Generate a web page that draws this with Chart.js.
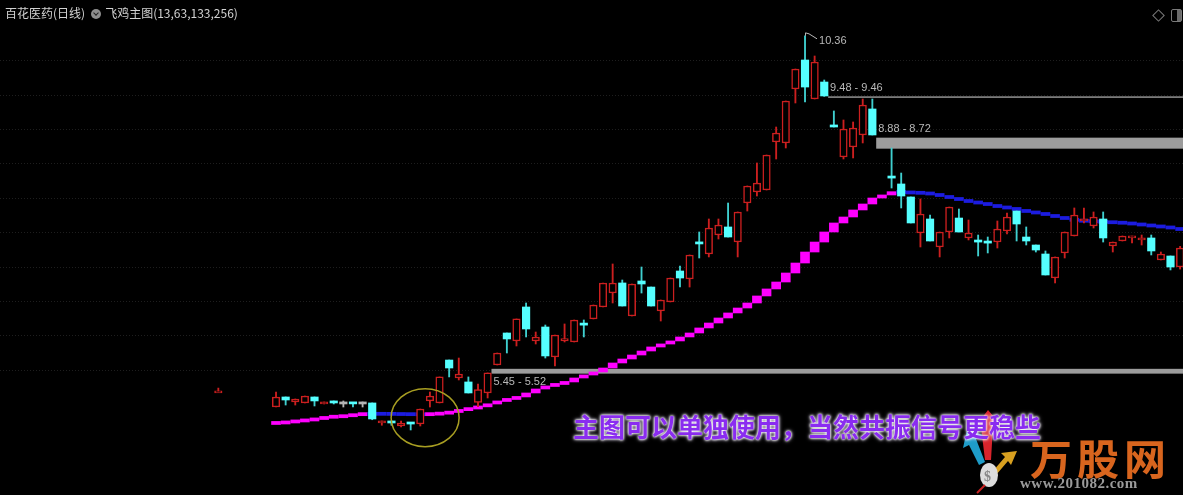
<!DOCTYPE html>
<html>
<head>
<meta charset="utf-8">
<script src="https://cdn.jsdelivr.net/npm/chart.js@4.4.1/dist/chart.umd.min.js"></script>
<style>
  body { margin: 0; background: #000; }
  #wrap { position: relative; width: 1183px; height: 495px; overflow: hidden; background: #000; }
  #c { position: absolute; left: 0; top: 0; }
  .title { position: absolute; left: 5px; top: 5px; font: 12px "Noto Sans CJK SC", sans-serif; color: #d2d2d2; line-height: 16px; white-space: nowrap; }
  .title .ic { display: inline-block; width: 10px; height: 10px; border-radius: 50%; background: #8e8e8e; margin: 0 4px 0 6px; vertical-align: -1px; position: relative; }
  .title .ic::after { content: ''; position: absolute; left: 3px; top: 2px; width: 3px; height: 3px; border-right: 1px solid #222; border-bottom: 1px solid #222; transform: rotate(45deg); }
  .diamond { position: absolute; left: 1154px; top: 11px; width: 7px; height: 7px; border: 1px solid #7a7a7a; transform: rotate(45deg); }
  .winbtn { position: absolute; left: 1171px; top: 9px; width: 9px; height: 11px; border: 1px solid #7a7a7a; border-radius: 2px; background: linear-gradient(90deg, transparent 50%, #6a6a6a 50%); }
  .slogan { position: absolute; left: 573px; top: 407px; font: bold 26px "Noto Sans CJK SC", sans-serif; color: #8a2cf0; white-space: nowrap;
            text-shadow: 0 0 2px #fff, 0 0 3px #fff, 0 0 4px #e8dcff; }
  .logo { position: absolute; left: 1030px; top: 434px; font: bold 42px "Noto Sans CJK SC", sans-serif; color: #d8651e; letter-spacing: 5px; line-height: 46px; }
  .url { position: absolute; left: 1020px; top: 475px; font: bold 15px "Liberation Serif", serif; color: #9a9a9a; letter-spacing: 0.5px; }
  .arrows { position: absolute; left: 955px; top: 405px; }
</style>
</head>
<body>
<div id="wrap">
  <canvas id="c" width="1183" height="495"></canvas>
  <div class="title">百花医药(日线)<span class="ic"></span>飞鸡主图(13,63,133,256)</div>
  <div class="diamond"></div>
  <div class="winbtn"></div>
  <svg class="arrows" width="70" height="90" viewBox="0 0 70 90">
    <polygon points="30,55 26,22 20,22 33,5 46,20 38,21 36,55" fill="#d8242c"/>
    <polygon points="24,60 14,40 8,43 12,25 28,30 21,34 30,57" fill="#1e9cc8"/>
    <polygon points="38,66 50,52 46,48 62,46 56,60 53,56 41,70" fill="#d8a020"/>
    <ellipse cx="34" cy="70" rx="9" ry="12" fill="#dcdcdc"/>
    <text x="29" y="76" font-size="14" font-weight="bold" fill="#888">$</text>
    <polyline points="30,80 22,88" stroke="#c82020" stroke-width="2"/>
  </svg>
  <div class="slogan">主图可以单独使用，当然共振信号更稳些</div>
  <div class="logo">万股网</div>
  <div class="url">www.201082.com</div>
</div>
<script>
// ── daily candles (x = bar slot, slot 63 has no bar) ──
const candleIdx = [-6,
  0, 1, 2, 3, 4, 5, 6, 7, 8, 9, 10, 11, 12, 13, 14, 15, 16, 17, 18, 19,
  20, 21, 22, 23, 24, 25, 26, 27, 28, 29, 30, 31, 32, 33, 34, 35, 36, 37, 38, 39,
  40, 41, 42, 43, 44, 45, 46, 47, 48, 49, 50, 51, 52, 53, 54, 55, 56, 57, 58, 59,
  60, 61, 62, 64, 65, 66, 67, 68, 69, 70, 71, 72, 73, 74, 75, 76, 77, 78, 79,
  80, 81, 82, 83, 84, 85, 86, 87, 88, 89, 90, 91, 92, 93, 94];

const openP = [5.18,
  4.965, 5.111, 5.038, 5.024, 5.111, 5.009, 5.053, 5.024, 5.03, 5.024, 5.024, 4.733, 4.762, 4.689, 4.74, 4.718, 5.053, 5.024, 5.648, 5.387,
  5.329, 5.03, 5.169, 5.576, 6.041, 5.925, 6.419, 5.925, 6.128, 5.692, 5.925, 5.91, 6.18, 6.245, 6.419, 6.622, 6.768, 6.288, 6.797, 6.709,
  6.361, 6.492, 6.942, 6.826, 7.36, 7.189, 7.465, 7.582, 7.363, 7.93, 8.09, 8.119, 8.817, 8.803, 9.587, 10.009, 9.442, 9.689, 9.055, 8.599,
  8.744, 8.919, 9.297, 8.315, 8.207, 8.018, 7.494, 7.698, 7.291, 7.509, 7.712, 7.422, 7.385, 7.37, 7.363, 7.523, 7.814, 7.436, 7.32,
  7.189, 6.84, 7.204, 7.451, 7.669, 7.596, 7.698, 7.305, 7.378, 7.43, 7.40, 7.422, 7.102, 7.16, 7.0];

const closeP = [5.19,
  5.111, 5.067, 5.082, 5.125, 5.053, 5.038, 5.024, 5.024, 5.02, 5.024, 4.791, 4.762, 4.733, 4.733, 4.725, 4.936, 5.125, 5.402, 5.532, 5.445,
  5.169, 5.22, 5.46, 5.75, 5.954, 6.245, 6.099, 5.983, 5.707, 6.012, 5.96, 6.23, 6.16, 6.448, 6.768, 6.768, 6.433, 6.753, 6.753, 6.433,
  6.521, 6.84, 6.84, 7.175, 7.34, 7.567, 7.611, 7.436, 7.80, 8.178, 8.22, 8.628, 8.948, 9.413, 9.878, 9.616, 9.98, 9.486, 9.045, 9.006,
  9.021, 9.355, 8.919, 8.30, 8.032, 7.64, 7.771, 7.378, 7.509, 7.872, 7.509, 7.494, 7.37, 7.355, 7.553, 7.727, 7.625, 7.378, 7.247,
  6.884, 7.146, 7.509, 7.756, 7.698, 7.727, 7.422, 7.363, 7.451, 7.445, 7.415, 7.233, 7.189, 7.0, 7.276];

const highP = [5.24,
  5.183, 5.111, 5.082, 5.125, 5.111, 5.038, 5.053, 5.053, 5.03, 5.038, 5.024, 4.762, 4.762, 4.762, 4.74, 4.936, 5.183, 5.402, 5.648, 5.677,
  5.402, 5.30, 5.46, 5.75, 6.041, 6.245, 6.477, 6.055, 6.157, 6.012, 6.172, 6.23, 6.23, 6.448, 6.768, 7.044, 6.811, 6.753, 7.0, 6.709,
  6.521, 6.84, 7.015, 7.175, 7.509, 7.698, 7.698, 7.93, 7.80, 8.178, 8.512, 8.628, 9.035, 9.413, 9.878, 10.36, 10.067, 9.718, 9.268, 9.137,
  9.108, 9.442, 9.442, 8.73, 8.366, 8.018, 7.989, 7.756, 7.509, 7.872, 7.843, 7.683, 7.465, 7.436, 7.669, 7.785, 7.814, 7.582, 7.32,
  7.233, 7.146, 7.509, 7.858, 7.858, 7.80, 7.80, 7.363, 7.451, 7.45, 7.465, 7.465, 7.218, 7.16, 7.30];

const lowP = [5.18,
  4.965, 4.994, 4.994, 5.024, 4.98, 5.009, 5.009, 4.965, 4.965, 4.965, 4.78, 4.70, 4.70, 4.675, 4.631, 4.689, 4.965, 5.024, 5.402, 5.358,
  5.169, 4.97, 5.096, 5.576, 5.75, 5.852, 5.983, 5.881, 5.677, 5.561, 5.91, 5.91, 5.983, 6.245, 6.419, 6.477, 6.433, 6.288, 6.622, 6.433,
  6.215, 6.492, 6.709, 6.709, 7.131, 7.146, 7.407, 7.436, 7.146, 7.814, 8.032, 8.119, 8.57, 8.73, 9.384, 9.398, 9.442, 9.48, 9.035, 8.57,
  8.585, 8.803, 8.919, 8.148, 7.858, 7.64, 7.291, 7.378, 7.146, 7.422, 7.509, 7.393, 7.16, 7.204, 7.276, 7.48, 7.378, 7.32, 7.218,
  6.884, 6.768, 7.131, 7.451, 7.64, 7.567, 7.363, 7.218, 7.378, 7.349, 7.32, 7.175, 7.102, 6.957, 6.97];

// ── 飞鸡 main line, one value per slot 0..94 ──
const lineVal = [
  4.733, 4.748, 4.762, 4.777, 4.791, 4.820, 4.827, 4.835, 4.856, 4.866, 4.866, 4.866, 4.864, 4.862, 4.860, 4.858, 4.864, 4.873, 4.893, 4.922,
  4.946, 4.970, 5.009, 5.053, 5.082, 5.111, 5.169, 5.227, 5.271, 5.300, 5.329, 5.387, 5.431, 5.474, 5.532, 5.605, 5.663, 5.721, 5.779, 5.838,
  5.881, 5.925, 5.983, 6.041, 6.114, 6.186, 6.259, 6.332, 6.404, 6.477, 6.579, 6.681, 6.782, 6.913, 7.058, 7.218, 7.363, 7.509, 7.640, 7.727,
  7.829, 7.916, 8.003, 8.047, 8.095, 8.086, 8.081, 8.076, 8.061, 8.032, 8.003, 7.974, 7.945, 7.930, 7.901, 7.872, 7.858, 7.829, 7.800, 7.785,
  7.756, 7.727, 7.698, 7.676, 7.669, 7.661, 7.654, 7.647, 7.640, 7.625, 7.611, 7.596, 7.582, 7.567, 7.538];

// ── gap annotations ──
const gapStart = [22, 57, 62];
const gapHi    = [5.52, 9.48, 8.88];
const gapLo    = [5.45, 9.46, 8.72];
const gapText  = ['5.45 - 5.52', '9.48 - 9.46', '8.88 - 8.72'];
const gapBelow = [true, false, false];

const peakIdx = 55;
const peakText = '10.36';

const COLORS = {
  up:      '#cc1f1f',
  down:    '#55ffff',
  downWick:'#3fcfcf',
  flat:    '#b4b4b4',
  rise:    '#ff00ff',
  fall:    '#1c1ce0',
  gap:     '#9c9c9c',
  label:   '#b8b8b8',
  grid:    '#1e1e1e',
  ring:    '#a89e22'
};

const candleColor = candleIdx.map((_, k) =>
  closeP[k] > openP[k] ? COLORS.up : closeP[k] < openP[k] ? COLORS.down : COLORS.flat);

function bodyRange(k) {
  let lo = Math.min(openP[k], closeP[k]);
  let hi = Math.max(openP[k], closeP[k]);
  if (hi - lo < 0.03) { const m = (hi + lo) / 2; lo = m - 0.015; hi = m + 0.015; }
  return [lo, hi];
}

function lineRange(i) {
  const prev = i > 0 ? lineVal[i - 1] : lineVal[i];
  let lo = Math.min(prev, lineVal[i]);
  let hi = Math.max(prev, lineVal[i]);
  if (hi - lo < 0.045) { const m = (hi + lo) / 2; lo = m - 0.0225; hi = m + 0.0225; }
  return [lo, hi];
}

const overlay = {
  id: 'overlay',
  beforeDatasetsDraw(chart) {
    const { ctx, chartArea, scales: { x, y } } = chart;
    ctx.save();
    ctx.font = '11px "Liberation Sans", Arial, sans-serif';
    ctx.textAlign = 'left';
    gapStart.forEach((s, k) => {
      const x0 = x.getPixelForValue(s + 0.4);
      const yHi = y.getPixelForValue(gapHi[k]);
      const yLo = y.getPixelForValue(gapLo[k]);
      ctx.fillStyle = COLORS.gap;
      ctx.fillRect(x0, yHi, chartArea.right - x0, Math.max(1.4, yLo - yHi));
      ctx.fillStyle = COLORS.label;
      if (gapBelow[k]) {
        ctx.textBaseline = 'top';
        ctx.fillText(gapText[k], x0 + 2, yLo + 3);
      } else {
        ctx.textBaseline = 'bottom';
        ctx.fillText(gapText[k], x0 + 2, yHi - 3);
      }
    });
    ctx.restore();
  },
  afterDatasetsDraw(chart) {
    const { ctx, scales: { x, y } } = chart;
    const k = candleIdx.indexOf(peakIdx);
    const px = x.getPixelForValue(peakIdx);
    const py = y.getPixelForValue(highP[k]);
    ctx.save();
    ctx.strokeStyle = COLORS.label;
    ctx.lineWidth = 1;
    ctx.beginPath();
    ctx.moveTo(px + 0.5, py);
    ctx.lineTo(px + 0.5, py - 3);
    ctx.lineTo(px + 4, py - 2);
    ctx.lineTo(px + 12, py + 3);
    ctx.stroke();
    ctx.fillStyle = COLORS.label;
    ctx.font = '11px "Liberation Sans", Arial, sans-serif';
    ctx.textBaseline = 'middle';
    ctx.fillText(peakText, px + 14, py + 5);

    // circled bottom area
    ctx.strokeStyle = COLORS.ring;
    ctx.lineWidth = 1.5;
    ctx.beginPath();
    ctx.ellipse(x.getPixelForValue(15.5), y.getPixelForValue(4.81), 34, 29, 0, 0, Math.PI * 2);
    ctx.stroke();
    ctx.restore();
  }
};

new Chart(document.getElementById('c'), {
  type: 'bar',
  data: {
    datasets: [
      {
        label: 'body',
        order: 1,
        grouped: false,
        barThickness: 7.5,
        borderSkipped: false,
        data: candleIdx.map((i, k) => ({ x: i, y: bodyRange(k) })),
        backgroundColor: candleColor.map(c => c === COLORS.up ? '#000' : c),
        borderColor: candleColor,
        borderWidth: candleColor.map(c => c === COLORS.up ? 1.5 : 0)
      },
      {
        label: 'wick',
        order: 2,
        grouped: false,
        barThickness: 1.2,
        borderSkipped: false,
        data: candleIdx.map((i, k) => ({ x: i, y: [lowP[k], highP[k]] })),
        backgroundColor: candleColor.map(c => c === COLORS.down ? COLORS.downWick : c)
      },
      {
        label: '飞鸡主图',
        order: 3,
        grouped: false,
        barThickness: 9,
        borderSkipped: false,
        data: lineVal.map((v, i) => ({ x: i, y: lineRange(i) })),
        backgroundColor: lineVal.map((v, i) => (i === 0 || v > lineVal[i - 1]) ? COLORS.rise : COLORS.fall)
      }
    ]
  },
  options: {
    responsive: false,
    animation: false,
    layout: { padding: 0 },
    plugins: { legend: { display: false }, tooltip: { enabled: false } },
    scales: {
      x: { type: 'linear', min: -28.7, max: 94.3, offset: false, display: false },
      y: {
        type: 'linear',
        min: 3.686,
        max: 10.881,
        ticks: { display: false, stepSize: 0.5 },
        grid: {
          drawTicks: false,
          color: c => (c.tick && c.tick.value >= 5.49 && c.tick.value <= 10.01 && Math.abs(c.tick.value * 2 - Math.round(c.tick.value * 2)) < 0.01) ? COLORS.grid : 'transparent'
        },
        border: { display: false, dash: [1, 2] }
      }
    }
  },
  plugins: [overlay]
});
</script>
</body>
</html>
